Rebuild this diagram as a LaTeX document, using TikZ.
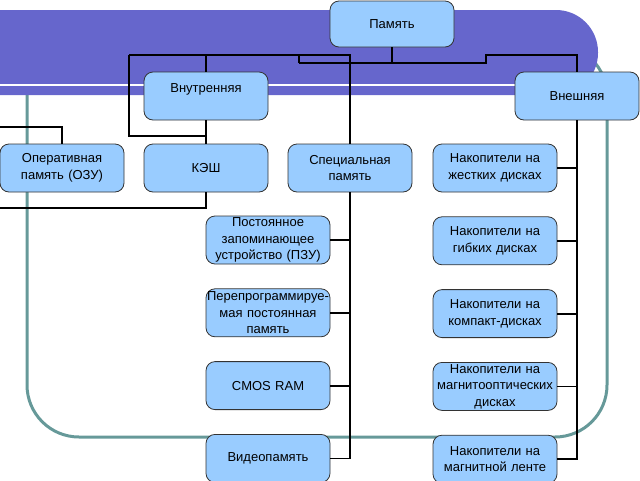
\documentclass[tikz,border=0pt]{standalone}
\usepackage{fontspec}
\setmainfont{Liberation Sans}
\usepackage{tikz}
\usetikzlibrary{positioning}
\definecolor{boxblue}{HTML}{99CCFF}
\definecolor{bandblue}{HTML}{6666CC}
\definecolor{framegreen}{HTML}{669999}
\tikzstyle{block} = [rectangle, rounded corners=9pt, draw=black!80, line width=0.8pt, fill=boxblue, text width=116pt, inner xsep=4pt, inner ysep=1pt, minimum height=48pt, align=center, font=\fontsize{13}{16.5}\selectfont]
\tikzstyle{wire} = [line width=1.8pt, black]

\begin{document}
\begin{tikzpicture}[x=1pt, y=-1pt, node distance=24pt, auto]
	\useasboundingbox (0,0) rectangle (640,480);
	\draw[framegreen, line width=3pt, rounded corners=52pt] (27,44) rectangle (607,437);
	\fill[bandblue, rounded corners=42pt] (-60,10) rectangle (598,95);
	\draw[white, line width=2.5pt] (-10,85) -- (580,85);

	\node (Memory) [block, minimum height=46pt] at (392,24) {Память};
	\node (Internal) [block, text depth=16pt] at (206,96) {Внутренняя};
	\node (External) [block] at (577,96) {Внешняя};
	\node (Ram) [block] at (62,168) {Оперативная\\память (ОЗУ)};
	\node (Cache) [block] at (206,168) {КЭШ};
	\node (Special) [block] at (350,168) {Специальная\\память};
	\node (Hdd) [block] at (495,168) {Накопители на\\жестких дисках};
	\node (Floppy) [block, below=of Hdd] {Накопители на\\гибких дисках};
	\node (Cd) [block, below=of Floppy] {Накопители на\\компакт-дисках};
	\node (Mo) [block, below=of Cd] {Накопители на\\\makebox[0pt]{магнитооптических}\\дисках};
	\node (Tape) [block, below=of Mo] {Накопители на\\магнитной ленте};
	\node (Rom) [block] at (268,240) {Постоянное\\запоминающее\\устройство (ПЗУ)};
	\node (Flash) [block, below=of Rom] {\makebox[0pt]{Перепрограммируе-}\\мая постоянная\\память};
	\node (Cmos) [block, below=of Flash] {CMOS RAM};
	\node (Video) [block, below=of Cmos] {Видеопамять};

	\coordinate (StepL) at (299,63);
	\coordinate (StepR) at (486,63);
	\coordinate (BusL) at (129,55);
	\coordinate (BusR) at (486,55);
	\coordinate (Kink) at (129,136);
	\coordinate (OffTop) at (-5,127);
	\coordinate (OffBottom) at (-5,208);

	\draw[wire] (Memory.south) -- (Memory.south |- StepL);
	\draw[wire] (StepL) -- (StepR) -- (BusR) -| (External.north);
	\draw[wire] (StepL) -- (StepL |- BusL);
	\draw[wire] (BusL) -- (BusL -| Special.north) -- (Special.north);
	\draw[wire] (Internal.north |- BusL) -- (Internal.north);
	\draw[wire] (BusL) -- (Kink) -- (Kink -| Cache.north);
	\draw[wire] (Internal.south) -- (Cache.north);
	\draw[wire] (Ram.north) |- (OffTop);
	\draw[wire] (Cache.south) |- (OffBottom);
	\draw[wire] (External.south) |- (Tape.east);
	\draw[wire] (Hdd.east) -- (Hdd.east -| External.south);
	\draw[wire] (Floppy.east) -- (Floppy.east -| External.south);
	\draw[wire] (Cd.east) -- (Cd.east -| External.south);
	\draw[wire] (Mo.east) -- (Mo.east -| External.south);
	\draw[wire] (Special.south) |- (Video.east);
	\draw[wire] (Rom.east) -- (Rom.east -| Special.south);
	\draw[wire] (Flash.east) -- (Flash.east -| Special.south);
	\draw[wire] (Cmos.east) -- (Cmos.east -| Special.south);
\end{tikzpicture}
\end{document}
